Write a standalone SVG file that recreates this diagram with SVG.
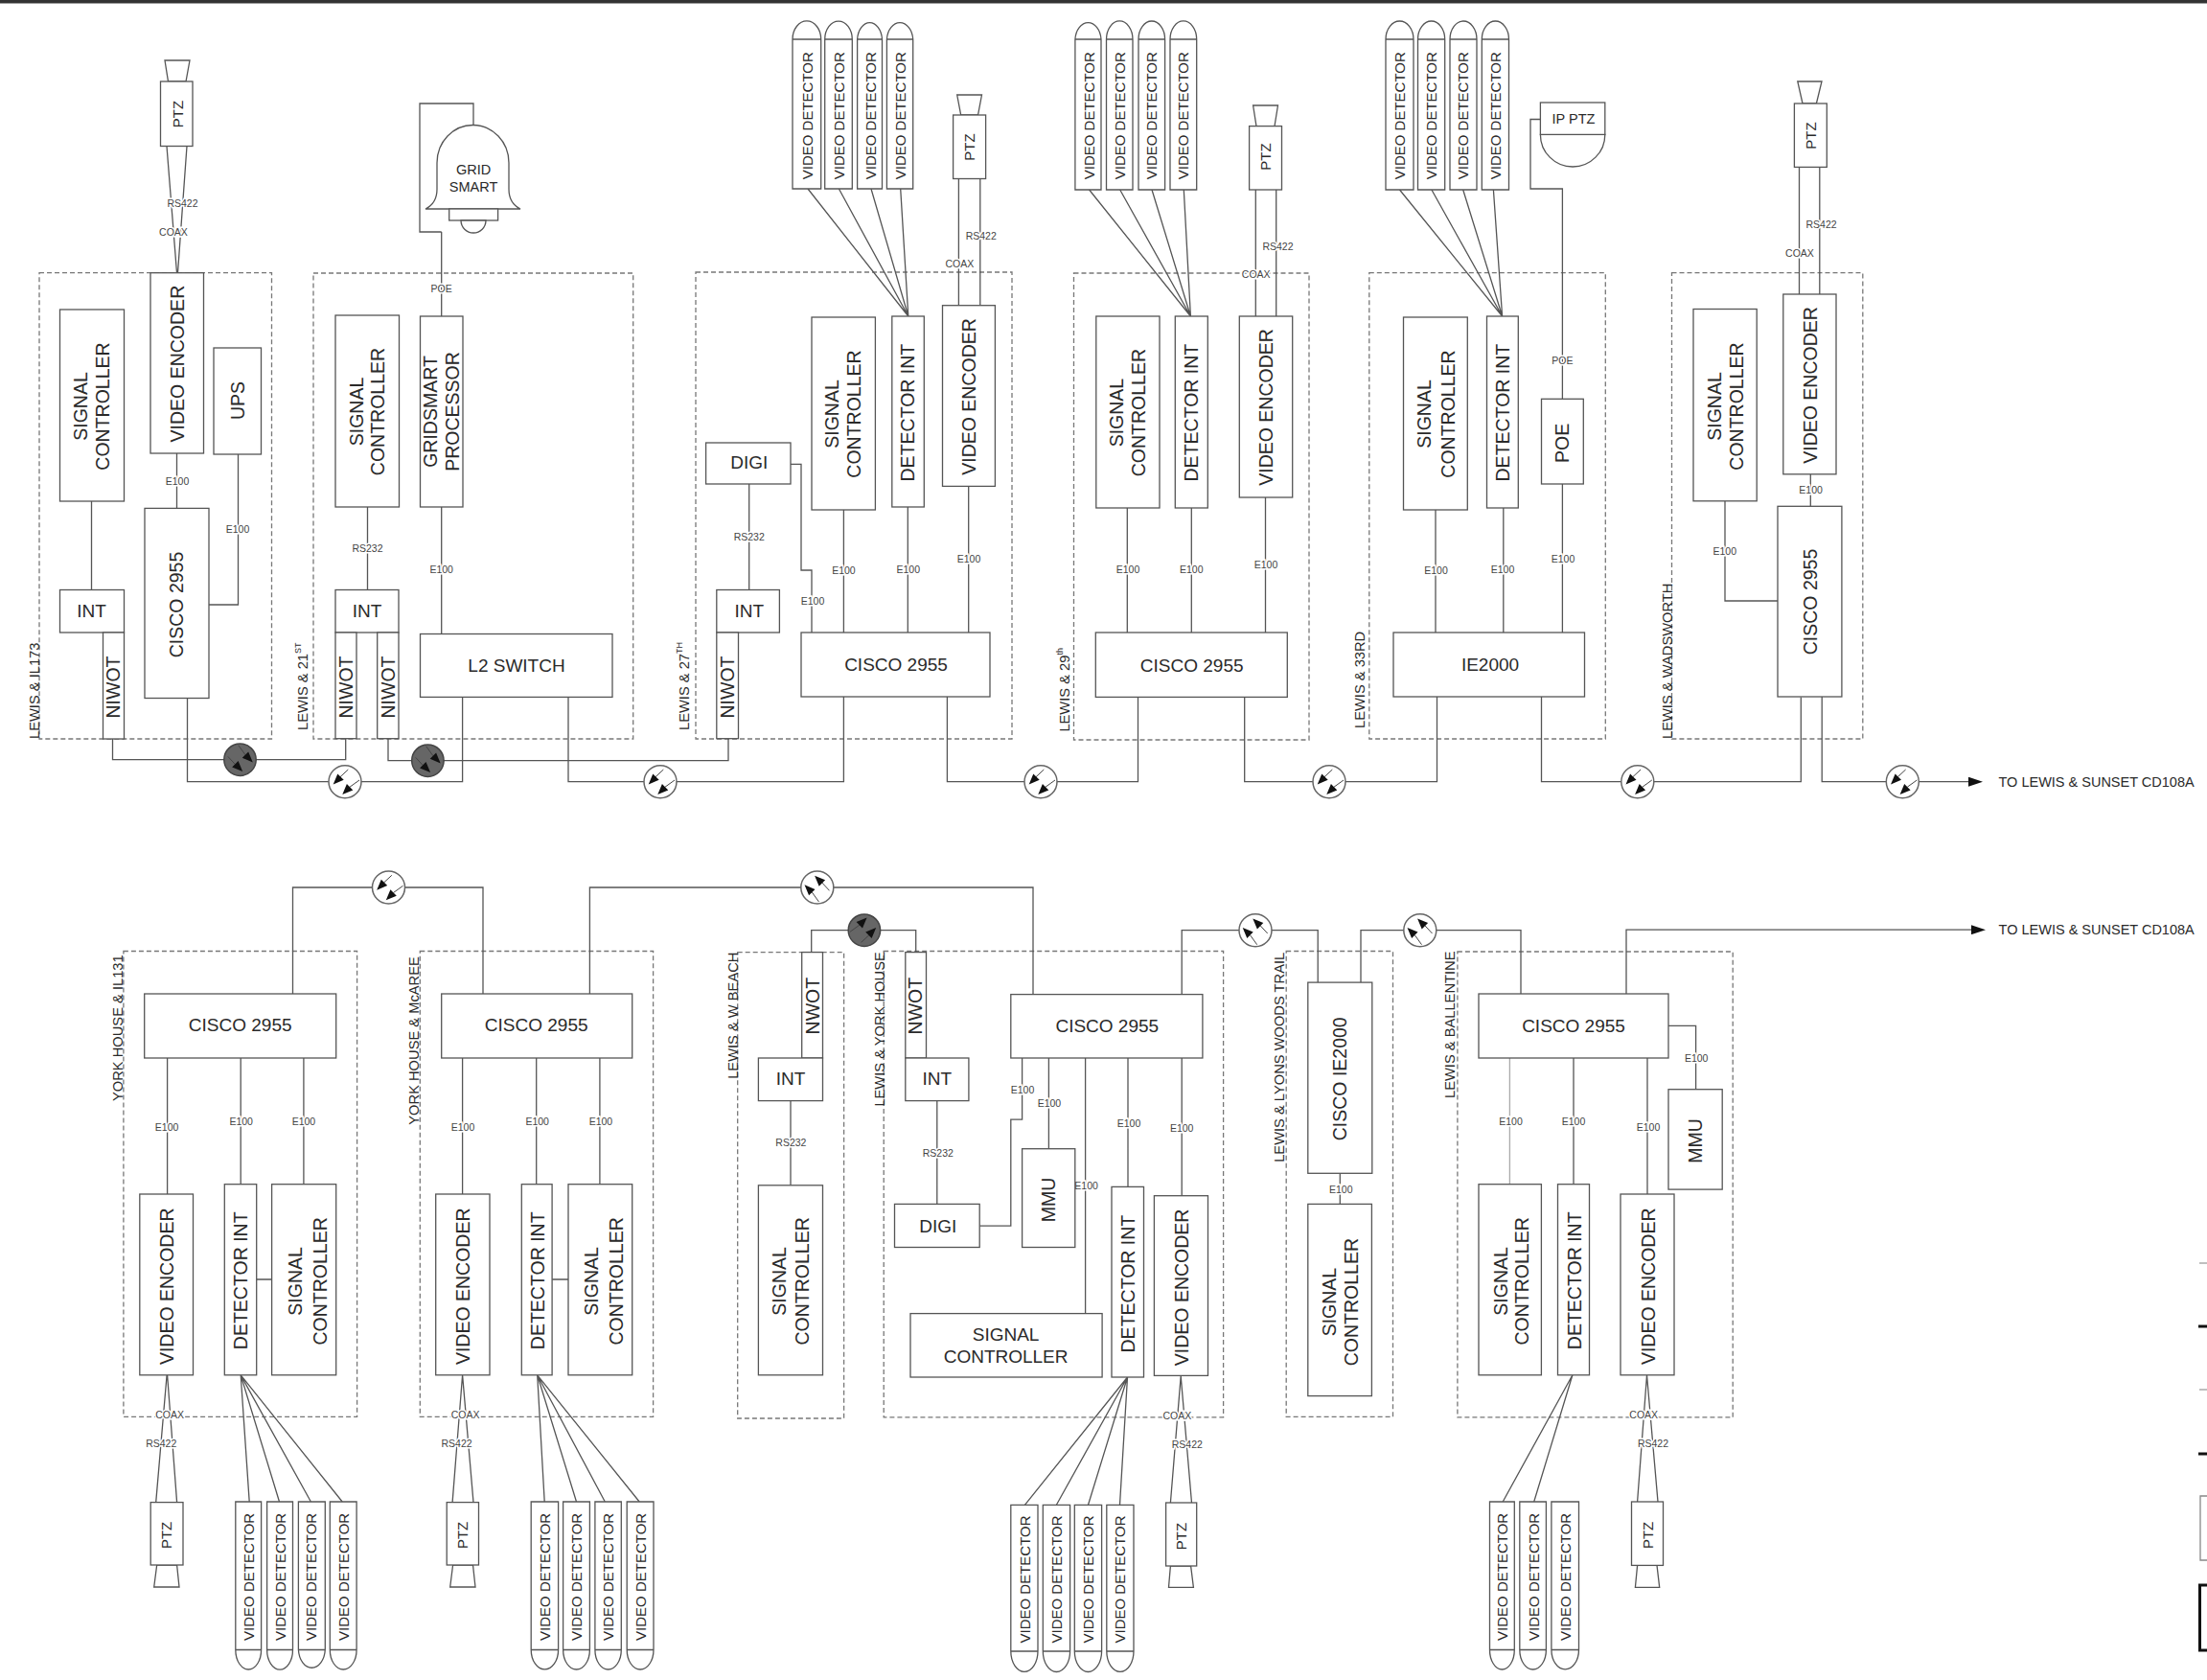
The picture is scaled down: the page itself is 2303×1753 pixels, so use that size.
<svg xmlns="http://www.w3.org/2000/svg" width="2303" height="1753" viewBox="0 0 2303 1753">
<style>
text{font-family:"Liberation Sans",Arial,sans-serif;fill:#2a2a2a;text-anchor:middle;dominant-baseline:central}
.b{fill:#fff;stroke:#555;stroke-width:1.3}
.d{fill:none;stroke:#777;stroke-width:1.3;stroke-dasharray:5 3}
.c{fill:none;stroke:#555;stroke-width:1.3}
.lg{stroke:#aaa}
.r{font-size:19.5px}
.h{font-size:19px}
.v{font-size:15px}
.m{font-size:14.5px}
.s{font-size:10.5px;fill:#444;stroke:#fff;stroke-width:3px;paint-order:stroke}
.l{font-size:14.7px;text-anchor:start}
.e{text-anchor:start}
.fw{fill:#fff;stroke:#666;stroke-width:1.5}
.fk{fill:#666;stroke:#444;stroke-width:1.5}
.arrow-line{stroke:#444;stroke-width:1}
</style>
<defs>
<g id="arrows">
<path class="arrow-line" d="M3.3-12.7L-5-5M15-1.7L5 5.5"/>
<path d="M-12.3 2.7L-1.3-1.9L-7.7-8.3ZM-2.7 13.3L8.3 8.7L1.9 2.3Z" fill="#111"/>
</g>
<marker id="ah" viewBox="0 0 15 10" refX="1" refY="5" markerWidth="15" markerHeight="10" markerUnits="userSpaceOnUse" orient="auto"><path d="M0 0L15 5L0 10Z" fill="#111"/></marker>
</defs>

<rect id="frame-top" x="0" y="0" width="2303" height="3.5" fill="#333"/>

<g id="sites">
<g id="site-il173"><rect class="d" x="41" y="284.7" width="242.5" height="486.3"/><text class="l" transform="translate(36 771) rotate(-90)">LEWIS &amp; IL173</text></g>
<g id="site-21st"><rect class="d" x="327" y="285" width="333.7" height="486"/><text class="l" transform="translate(316 762) rotate(-90)">LEWIS &amp; 21<tspan font-size="9" dy="-5">ST</tspan></text></g>
<g id="site-27th"><rect class="d" x="726" y="284" width="330" height="487"/><text class="l" transform="translate(714 762) rotate(-90)">LEWIS &amp; 27<tspan font-size="9" dy="-5">TH</tspan></text></g>
<g id="site-29th"><rect class="d" x="1120.5" y="285" width="245.5" height="487"/><text class="l" transform="translate(1110.7 763.6) rotate(-90)">LEWIS &amp; 29<tspan font-size="9" dy="-5">th</tspan></text></g>
<g id="site-33rd"><rect class="d" x="1428.8" y="284.7" width="246.5" height="486.3"/><text class="l" transform="translate(1419 760) rotate(-90)">LEWIS &amp; 33RD</text></g>
<g id="site-wadsworth"><rect class="d" x="1744.5" y="284.7" width="199.3" height="486.3"/><text class="l" transform="translate(1739.9 771) rotate(-90)">LEWIS &amp; WADSWORTH</text></g>
<g id="site-il131"><rect class="d" x="128.9" y="992.5" width="243.7" height="485.8"/><text class="l" transform="translate(123.4 1149) rotate(-90)">YORK HOUSE &amp; IL131</text></g>
<g id="site-mcaree"><rect class="d" x="438.3" y="992.5" width="243.3" height="485.8"/><text class="l" transform="translate(432.3 1173.7) rotate(-90)">YORK HOUSE &amp; McAREE</text></g>
<g id="site-wbeach"><rect class="d" x="769.7" y="993.6" width="110.9" height="486.4"/><text class="l" transform="translate(765 1125.8) rotate(-90)">LEWIS &amp; W BEACH</text></g>
<g id="site-yorkhouse"><rect class="d" x="922.2" y="992.5" width="354.4" height="486.4"/><text class="l" transform="translate(918.4 1154.6) rotate(-90)">LEWIS &amp; YORK HOUSE</text></g>
<g id="site-lyons"><rect class="d" x="1342.2" y="992.5" width="111.3" height="485.8"/><text class="l" transform="translate(1334.6 1212.8) rotate(-90)">LEWIS &amp; LYONS WOODS TRAIL</text></g>
<g id="site-ballentine"><rect class="d" x="1520.9" y="993" width="287.3" height="485.9"/><text class="l" transform="translate(1513.2 1146) rotate(-90)">LEWIS &amp; BALLENTINE</text></g>
</g>

<g id="connectors">
<path class="c" d="M174 152.5L184.5 284.7M195 152.5L185.5 284.7M184.5 473V530.4M248.5 474V631H218M95.5 523V615.5M117.5 771V792.7H360.7V771M195.5 728.5V815.7H482.6V727.4"/>
<path class="c" d="M460.7 242H438V108H494V130.5M460.7 242V330M383.5 529V615.5M460.7 529V661.5M405 770.7V793.7H760V770.7M593 727.4V815.7H880.4V727"/>
<path class="c" d="M781.7 505V615.5M825 484.4H836V595H847V660M880.4 532V660M947.3 529V660M1010.7 507.4V660M988.4 727V815.7H1187.5V727.4M843 197L947.8 330M875.4 197L947.8 330M909 197L947.8 330M939.7 197L947.8 330M1000.4 186.5V318.7M1022.8 186.5V318.7"/>
<path class="c" d="M1176.3 530V660M1243.3 530V660M1320.5 519V660M1298.7 727.4V815.7H1499.5V727M1136.6 198L1242.4 330M1168.7 198L1242.4 330M1202 198L1242.4 330M1235.3 198L1242.4 330M1310.3 198V330M1331.7 198V330"/>
<path class="c" d="M1498 532V660M1568.8 530V660M1630.4 505V660M1460.5 198L1567.6 330M1493.9 198L1567.6 330M1526.7 198L1567.6 330M1558.4 198L1567.6 330M1607.4 124.5H1597V197H1630.4V416.3M1608.5 727V815.7H1879.3V727.4"/>
<path class="c" d="M1800 522.8V627H1855M1889.3 494.8V528.3M1877.5 174.4V307M1898.8 174.4V307"/>
<path class="c" d="M1901.2 727V815.7H2055" marker-end="url(#ah)"/>
<path class="c" d="M305.5 1037V926H504V1037M615.4 1037V926H1078V1037.6M174.6 1104V1246M251.2 1104V1235.7M316.9 1104V1235.7M267.7 1335H283.6M174.1 1434.8L162.7 1567.6M174.6 1434.8L184.6 1567.6M251.2 1434.8L260.2 1567M251.2 1434.8L291.5 1567M251.2 1434.8L324.4 1567M251.2 1434.8L357.2 1567"/>
<path class="c" d="M482.6 1104V1246M559.7 1104V1235.7M625.9 1104V1235.7M576.1 1335H593M482.6 1434.8L472.1 1567.6M482.6 1434.8L494 1567.6M560.7 1434.8L568.2 1567M560.7 1434.8L601.5 1567M560.7 1434.8L631.3 1567M560.7 1434.8L667.2 1567"/>
<path class="c" d="M825 1148.6V1236.8M846.7 993.6V970.7H955.7V993.6M977.8 1148.6V1256.4M1022.2 1279.2H1054.8V1168.2H1066.6V1104M1094.4 1104V1198.7M1132.6 1104V1370.6M1177 1104V1238.4M1233.2 1104V1247.7M1233.2 1037.6V970.7H1375.2V1025.1M1232.2 1435.9L1221.4 1568M1232.2 1435.9L1243.5 1568M1176.5 1437L1069.4 1570.3M1176.5 1437L1102.4 1570.3M1176.5 1437L1135.5 1570.3M1176.5 1437L1168.5 1570.3"/>
<path class="c" d="M1398.3 1224.3V1256.4M1420 1025.1V970.7H1587V1037M1769.6 1136.7V1070.3H1741M1642 1104V1235.7M1719 1104V1246M1718.5 1434.8L1708.6 1567M1718.5 1434.8L1730 1567M1640.9 1434.8L1568.2 1567M1640.9 1434.8L1600.7 1567"/>
<path class="c lg" d="M1575.4 1104V1235.7"/>
<path class="c" d="M1697 1037V970.2H2058" marker-end="url(#ah)"/>
<g id="connector-labels">
<text class="s" x="190.5" y="212">RS422</text><text class="s" x="181" y="242">COAX</text><text class="s" x="185" y="502">E100</text><text class="s" x="248" y="552.4">E100</text>
<text class="s" x="460.7" y="301">POE</text><text class="s" x="383.5" y="572">RS232</text><text class="s" x="460.7" y="594">E100</text>
<text class="s" x="781.7" y="560">RS232</text><text class="s" x="848" y="627">E100</text><text class="s" x="880.4" y="595">E100</text><text class="s" x="947.8" y="594">E100</text><text class="s" x="1011" y="582.5">E100</text><text class="s" x="1023.7" y="246">RS422</text><text class="s" x="1001.3" y="275">COAX</text>
<text class="s" x="1177" y="594">E100</text><text class="s" x="1243.3" y="594">E100</text><text class="s" x="1321" y="588.6">E100</text><text class="s" x="1333.5" y="257">RS422</text><text class="s" x="1310.7" y="286.3">COAX</text>
<text class="s" x="1498.5" y="594.6">E100</text><text class="s" x="1568" y="594">E100</text><text class="s" x="1631" y="582.5">E100</text><text class="s" x="1630.4" y="376.3">POE</text>
<text class="s" x="1889.6" y="511">E100</text><text class="s" x="1799.8" y="575">E100</text><text class="s" x="1900.6" y="234.2">RS422</text><text class="s" x="1878" y="263.9">COAX</text>
<text class="s" x="174.1" y="1176.4">E100</text><text class="s" x="251.7" y="1170.4">E100</text><text class="s" x="316.9" y="1170.4">E100</text><text class="s" x="177.1" y="1475.6">COAX</text><text class="s" x="168.2" y="1506">RS422</text>
<text class="s" x="483" y="1176.4">E100</text><text class="s" x="560.7" y="1170">E100</text><text class="s" x="626.9" y="1170.4">E100</text><text class="s" x="485.6" y="1475.6">COAX</text><text class="s" x="476.6" y="1506">RS422</text>
<text class="s" x="825.4" y="1192">RS232</text><text class="s" x="978.8" y="1203">RS232</text><text class="s" x="1067" y="1136.7">E100</text><text class="s" x="1094.9" y="1151.4">E100</text><text class="s" x="1133.6" y="1237.3">E100</text><text class="s" x="1178" y="1171.5">E100</text><text class="s" x="1233.2" y="1177">E100</text><text class="s" x="1228.4" y="1476.7">COAX</text><text class="s" x="1238.8" y="1506.6">RS422</text>
<text class="s" x="1399.3" y="1240.6">E100</text>
<text class="s" x="1770.2" y="1104">E100</text><text class="s" x="1576.5" y="1170.4">E100</text><text class="s" x="1642" y="1170">E100</text><text class="s" x="1720" y="1176.4">E100</text><text class="s" x="1715.2" y="1475.6">COAX</text><text class="s" x="1725" y="1506">RS422</text>
</g>
<g id="splices">
<g transform="translate(250.5 792.7)"><circle class="fk" r="16.7"/><use href="#arrows" transform="rotate(270)"/></g>
<g transform="translate(360 815.7)"><circle class="fw" r="17"/><use href="#arrows"/></g>
<g transform="translate(446.4 793.7)"><circle class="fk" r="16.7"/><use href="#arrows" transform="rotate(270)"/></g>
<g transform="translate(689 815.7)"><circle class="fw" r="17"/><use href="#arrows"/></g>
<g transform="translate(1086 815.7)"><circle class="fw" r="17"/><use href="#arrows"/></g>
<g transform="translate(1387 815.7)"><circle class="fw" r="17"/><use href="#arrows"/></g>
<g transform="translate(1708.8 815.7)"><circle class="fw" r="17"/><use href="#arrows"/></g>
<g transform="translate(1985.3 815.7)"><circle class="fw" r="17"/><use href="#arrows"/></g>
<g transform="translate(405.5 926)"><circle class="fw" r="17"/><use href="#arrows"/></g>
<g transform="translate(852.8 926)"><circle class="fw" r="17"/><use href="#arrows" transform="rotate(90)"/></g>
<g transform="translate(901.9 970.7)"><circle class="fk" r="16.7"/><use href="#arrows" transform="rotate(180)"/></g>
<g transform="translate(1310 970.7)"><circle class="fw" r="17"/><use href="#arrows" transform="rotate(90)"/></g>
<g transform="translate(1481.8 970.7)"><circle class="fw" r="17"/><use href="#arrows" transform="rotate(90)"/></g>
</g>
</g>

<g id="top-row">
<g id="ptz-1"><path class="b" d="M172 63H198L194 85H175.5Z"/><rect class="b" x="167.5" y="85" width="33.5" height="67.5"/><text class="v" transform="translate(185 119) rotate(-90)">PTZ</text></g>
<g id="enc-1"><rect class="b" x="157" y="284.7" width="55.5" height="188.3"/><text class="r" transform="translate(184.5 379.6) rotate(-90)">VIDEO ENCODER</text></g>
<g id="sig-1"><rect class="b" x="62.5" y="323" width="67" height="200"/><text class="r" transform="translate(84 424) rotate(-90)">SIGNAL</text><text class="r" transform="translate(107 424) rotate(-90)">CONTROLLER</text></g>
<g id="ups-1"><rect class="b" x="223" y="363" width="49.5" height="111"/><text class="r" transform="translate(248 418) rotate(-90)">UPS</text></g>
<g id="cisco-1"><rect class="b" x="151" y="530.4" width="67" height="198.1"/><text class="r" transform="translate(184 631) rotate(-90)">CISCO 2955</text></g>
<g id="int-1"><rect class="b" x="62.5" y="615.5" width="67" height="44.5"/><text class="h" x="95.5" y="637.4">INT</text></g>
<g id="niwot-1"><rect class="b" x="107.5" y="660" width="22" height="111"/><text class="r" transform="translate(117.5 717) rotate(-90)">NIWOT</text></g>

<g id="gridsmart"><path class="b" d="M444 218Q456 212 456 197.5V170A37.5 39.5 0 0 1 531 170V197.5Q531 212 543 218Z"/><rect class="b" x="468.7" y="218" width="50.9" height="12"/><path class="b" d="M481 230A13 13 0 0 0 507 230Z"/><text class="m" x="494" y="176.6">GRID</text><text class="m" x="494" y="194.7">SMART</text></g>
<g id="sig-2"><rect class="b" x="350" y="329" width="66.5" height="200"/><text class="r" transform="translate(371.5 429.5) rotate(-90)">SIGNAL</text><text class="r" transform="translate(394 429.5) rotate(-90)">CONTROLLER</text></g>
<g id="gsp"><rect class="b" x="438.5" y="330" width="44.5" height="199"/><text class="r" transform="translate(449 429.5) rotate(-90)">GRIDSMART</text><text class="r" transform="translate(472 429.5) rotate(-90)">PROCESSOR</text></g>
<g id="int-2"><rect class="b" x="350" y="615.5" width="66" height="44.5"/><text class="h" x="383" y="637.4">INT</text></g>
<g id="niwot-2a"><rect class="b" x="350" y="660" width="22" height="110.7"/><text class="r" transform="translate(360.5 717) rotate(-90)">NIWOT</text></g>
<g id="niwot-2b"><rect class="b" x="393.7" y="660" width="22.3" height="110.7"/><text class="r" transform="translate(405 717) rotate(-90)">NIWOT</text></g>
<g id="l2"><rect class="b" x="438.5" y="661.5" width="200.5" height="65.9"/><text class="h" x="539" y="694">L2 SWITCH</text></g>

<g id="digi-3"><rect class="b" x="736.6" y="462" width="88.4" height="43"/><text class="h" x="781.7" y="482.7">DIGI</text></g>
<g id="int-3"><rect class="b" x="747.8" y="615.5" width="65.6" height="44.5"/><text class="h" x="781.7" y="637.4">INT</text></g>
<g id="niwot-3"><rect class="b" x="747.8" y="660" width="22.7" height="110.7"/><text class="r" transform="translate(759.4 717) rotate(-90)">NIWOT</text></g>
<g id="sig-3"><rect class="b" x="847" y="331" width="66.4" height="201"/><text class="r" transform="translate(868 432) rotate(-90)">SIGNAL</text><text class="r" transform="translate(891 432) rotate(-90)">CONTROLLER</text></g>
<g id="det-3"><rect class="b" x="930.8" y="330" width="33.5" height="199"/><text class="r" transform="translate(947 430.6) rotate(-90)">DETECTOR INT</text></g>
<g id="enc-3"><rect class="b" x="983.5" y="318.7" width="54.9" height="188.7"/><text class="r" transform="translate(1011 414) rotate(-90)">VIDEO ENCODER</text></g>
<g id="cisco-3"><rect class="b" x="836" y="660" width="197" height="67"/><text class="h" x="935" y="693.4">CISCO 2955</text></g>
<g id="vd-3"><path class="b" d="M827 197V41A14.8 19 0 0 1 856.7 41V197ZM827 41H856.7"/><text class="v" transform="translate(842 120.7) rotate(-90)">VIDEO DETECTOR</text><path class="b" d="M860.7 197V41A14.3 19 0 0 1 889.3 41V197ZM860.7 41H889.3"/><text class="v" transform="translate(875 120.7) rotate(-90)">VIDEO DETECTOR</text><path class="b" d="M894.6 197V41A13 19 0 0 1 920.5 41V197ZM894.6 41H920.5"/><text class="v" transform="translate(908 120.7) rotate(-90)">VIDEO DETECTOR</text><path class="b" d="M925.4 197V41A13.7 19 0 0 1 952.7 41V197ZM925.4 41H952.7"/><text class="v" transform="translate(939.3 120.7) rotate(-90)">VIDEO DETECTOR</text></g>
<g id="ptz-3"><path class="b" d="M998.7 99H1024.5L1020.5 120H1002.7Z"/><rect class="b" x="994.6" y="120" width="34" height="66.5"/><text class="v" transform="translate(1011.6 153.6) rotate(-90)">PTZ</text></g>

<g id="sig-4"><rect class="b" x="1143.8" y="330" width="66.2" height="200"/><text class="r" transform="translate(1165 430.6) rotate(-90)">SIGNAL</text><text class="r" transform="translate(1188 430.6) rotate(-90)">CONTROLLER</text></g>
<g id="det-4"><rect class="b" x="1226.3" y="330" width="34" height="200"/><text class="r" transform="translate(1243 430.6) rotate(-90)">DETECTOR INT</text></g>
<g id="enc-4"><rect class="b" x="1293.3" y="330" width="55.4" height="189"/><text class="r" transform="translate(1320.5 425) rotate(-90)">VIDEO ENCODER</text></g>
<g id="cisco-4"><rect class="b" x="1143.3" y="660" width="200" height="67.4"/><text class="h" x="1243.7" y="694">CISCO 2955</text></g>
<g id="vd-4"><path class="b" d="M1121.9 198V41A13.6 19 0 0 1 1149 41V198ZM1121.9 41H1149"/><text class="v" transform="translate(1136 120.7) rotate(-90)">VIDEO DETECTOR</text><path class="b" d="M1154.5 198V41A13.7 19 0 0 1 1182 41V198ZM1154.5 41H1182"/><text class="v" transform="translate(1168.7 120.7) rotate(-90)">VIDEO DETECTOR</text><path class="b" d="M1188 198V41A13.8 19 0 0 1 1215.6 41V198ZM1188 41H1215.6"/><text class="v" transform="translate(1201.8 120.7) rotate(-90)">VIDEO DETECTOR</text><path class="b" d="M1221 198V41A13.8 19 0 0 1 1248.7 41V198ZM1221 41H1248.7"/><text class="v" transform="translate(1234.8 120.7) rotate(-90)">VIDEO DETECTOR</text></g>
<g id="ptz-4"><path class="b" d="M1307.6 110H1333.5L1330 131.6H1311Z"/><rect class="b" x="1303.6" y="131.6" width="33.9" height="66.4"/><text class="v" transform="translate(1320.5 163.5) rotate(-90)">PTZ</text></g>

<g id="sig-5"><rect class="b" x="1464.5" y="331" width="66.8" height="201"/><text class="r" transform="translate(1486.4 432) rotate(-90)">SIGNAL</text><text class="r" transform="translate(1510.6 432) rotate(-90)">CONTROLLER</text></g>
<g id="det-5"><rect class="b" x="1551.5" y="330" width="32.8" height="200"/><text class="r" transform="translate(1568 430.6) rotate(-90)">DETECTOR INT</text></g>
<g id="poe-5"><rect class="b" x="1608.5" y="416.3" width="43.8" height="88.7"/><text class="r" transform="translate(1630.4 462.4) rotate(-90)">POE</text></g>
<g id="ie-5"><rect class="b" x="1454" y="660" width="199.5" height="67"/><text class="h" x="1555" y="693.4">IE2000</text></g>
<g id="ipptz-5"><path class="b" d="M1607.4 140.4A33.7 33.6 0 0 0 1674.8 140.4Z"/><rect class="b" x="1607.4" y="107" width="67.4" height="33.4"/><text class="m" x="1642" y="124">IP PTZ</text></g>
<g id="vd-5"><path class="b" d="M1446 198V41A14.5 19 0 0 1 1475 41V198ZM1446 41H1475"/><text class="v" transform="translate(1460.5 120.7) rotate(-90)">VIDEO DETECTOR</text><path class="b" d="M1479.5 198V41A14.1 19 0 0 1 1507.7 41V198ZM1479.5 41H1507.7"/><text class="v" transform="translate(1493.9 120.7) rotate(-90)">VIDEO DETECTOR</text><path class="b" d="M1513 198V41A14 19 0 0 1 1541 41V198ZM1513 41H1541"/><text class="v" transform="translate(1526.7 120.7) rotate(-90)">VIDEO DETECTOR</text><path class="b" d="M1546.3 198V41A14.1 19 0 0 1 1574.5 41V198ZM1546.3 41H1574.5"/><text class="v" transform="translate(1560.7 120.7) rotate(-90)">VIDEO DETECTOR</text></g>

<g id="sig-6"><rect class="b" x="1767" y="322.5" width="66.2" height="200.3"/><text class="r" transform="translate(1789.4 424) rotate(-90)">SIGNAL</text><text class="r" transform="translate(1811.9 424) rotate(-90)">CONTROLLER</text></g>
<g id="enc-6"><rect class="b" x="1860.8" y="307" width="55.2" height="187.8"/><text class="r" transform="translate(1888.5 402) rotate(-90)">VIDEO ENCODER</text></g>
<g id="cisco-6"><rect class="b" x="1855" y="528.3" width="66.9" height="198.7"/><text class="r" transform="translate(1888.5 628) rotate(-90)">CISCO 2955</text></g>
<g id="ptz-6"><path class="b" d="M1875.8 85H1901L1895.4 108H1881Z"/><rect class="b" x="1872.4" y="108" width="33.9" height="66.4"/><text class="v" transform="translate(1889 141.5) rotate(-90)">PTZ</text></g>
<text id="to-1" class="m e" x="2085.5" y="815.7">TO LEWIS &amp; SUNSET CD108A</text>
</g>

<g id="bottom-row">
<g id="cisco-7"><rect class="b" x="150.7" y="1037" width="200" height="67"/><text class="h" x="250.7" y="1069.8">CISCO 2955</text></g>
<g id="enc-7"><rect class="b" x="145.8" y="1246" width="55.7" height="188.8"/><text class="r" transform="translate(173.6 1342.3) rotate(-90)">VIDEO ENCODER</text></g>
<g id="det-7"><rect class="b" x="234.3" y="1235.7" width="33.4" height="199.1"/><text class="r" transform="translate(250.7 1336.3) rotate(-90)">DETECTOR INT</text></g>
<g id="sig-7"><rect class="b" x="283.6" y="1235.7" width="67.1" height="199.1"/><text class="r" transform="translate(308 1336.9) rotate(-90)">SIGNAL</text><text class="r" transform="translate(333.8 1336.9) rotate(-90)">CONTROLLER</text></g>
<g id="ptz-7"><path class="b" d="M163.7 1633H184.6L187 1656H160.7Z"/><rect class="b" x="157.2" y="1567.6" width="33.8" height="65.4"/><text class="v" transform="translate(173.1 1601.9) rotate(-90)">PTZ</text></g>
<g id="vd-7"><path class="b" d="M245.8 1567V1721.5A13.4 20.5 0 0 0 272.6 1721.5V1567ZM245.8 1721.5H272.6"/><text class="v" transform="translate(259.2 1645.4) rotate(-90)">VIDEO DETECTOR</text><path class="b" d="M278.6 1567V1721.5A13.4 20.5 0 0 0 305.5 1721.5V1567ZM278.6 1721.5H305.5"/><text class="v" transform="translate(292 1645.4) rotate(-90)">VIDEO DETECTOR</text><path class="b" d="M311.4 1567V1721.5A14 20.5 0 0 0 339.3 1721.5V1567ZM311.4 1721.5H339.3"/><text class="v" transform="translate(324.9 1645.4) rotate(-90)">VIDEO DETECTOR</text><path class="b" d="M344.3 1567V1721.5A13.9 20.5 0 0 0 372.1 1721.5V1567ZM344.3 1721.5H372.1"/><text class="v" transform="translate(358.2 1645.4) rotate(-90)">VIDEO DETECTOR</text></g>

<g id="cisco-8"><rect class="b" x="460.7" y="1037" width="199" height="67"/><text class="h" x="559.7" y="1069.8">CISCO 2955</text></g>
<g id="enc-8"><rect class="b" x="454.7" y="1246" width="56.3" height="188.8"/><text class="r" transform="translate(482.6 1342.3) rotate(-90)">VIDEO ENCODER</text></g>
<g id="det-8"><rect class="b" x="544.3" y="1235.7" width="31.8" height="199.1"/><text class="r" transform="translate(560.7 1336.3) rotate(-90)">DETECTOR INT</text></g>
<g id="sig-8"><rect class="b" x="593" y="1235.7" width="66.7" height="199.1"/><text class="r" transform="translate(617.4 1336.9) rotate(-90)">SIGNAL</text><text class="r" transform="translate(643.3 1336.9) rotate(-90)">CONTROLLER</text></g>
<g id="ptz-8"><path class="b" d="M472.6 1633H493.5L496 1656H469.7Z"/><rect class="b" x="466.2" y="1567.6" width="33.3" height="65.4"/><text class="v" transform="translate(482.1 1601.9) rotate(-90)">PTZ</text></g>
<g id="vd-8"><path class="b" d="M554.2 1567V1721.5A14.2 20.5 0 0 0 582.6 1721.5V1567ZM554.2 1721.5H582.6"/><text class="v" transform="translate(568.2 1645.4) rotate(-90)">VIDEO DETECTOR</text><path class="b" d="M587.6 1567V1721.5A13.9 20.5 0 0 0 615.4 1721.5V1567ZM587.6 1721.5H615.4"/><text class="v" transform="translate(601.5 1645.4) rotate(-90)">VIDEO DETECTOR</text><path class="b" d="M620.9 1567V1721.5A13.7 20.5 0 0 0 648.3 1721.5V1567ZM620.9 1721.5H648.3"/><text class="v" transform="translate(634.8 1645.4) rotate(-90)">VIDEO DETECTOR</text><path class="b" d="M654.2 1567V1721.5A13.9 20.5 0 0 0 682 1721.5V1567ZM654.2 1721.5H682"/><text class="v" transform="translate(668.1 1645.4) rotate(-90)">VIDEO DETECTOR</text></g>

<g id="nwot-9"><rect class="b" x="836.7" y="993.6" width="21.8" height="110.4"/><text class="r" transform="translate(847.6 1049.6) rotate(-90)">NWOT</text></g>
<g id="int-9"><rect class="b" x="791.4" y="1104" width="67.1" height="44.6"/><text class="h" x="825" y="1125.8">INT</text></g>
<g id="sig-9"><rect class="b" x="791.4" y="1236.8" width="67.1" height="198"/><text class="r" transform="translate(813 1336.9) rotate(-90)">SIGNAL</text><text class="r" transform="translate(836.7 1336.9) rotate(-90)">CONTROLLER</text></g>

<g id="nwot-10"><rect class="b" x="944.8" y="993.6" width="21.7" height="110.4"/><text class="r" transform="translate(955.2 1049.6) rotate(-90)">NWOT</text></g>
<g id="int-10"><rect class="b" x="944.8" y="1104" width="66.1" height="44.6"/><text class="h" x="977.8" y="1125.8">INT</text></g>
<g id="digi-10"><rect class="b" x="933.5" y="1256.4" width="88.7" height="45.1"/><text class="h" x="978.8" y="1279.2">DIGI</text></g>
<g id="cisco-10"><rect class="b" x="1054.8" y="1037.6" width="200.1" height="66.4"/><text class="h" x="1155.3" y="1070.3">CISCO 2955</text></g>
<g id="mmu-10"><rect class="b" x="1066.6" y="1198.7" width="55.2" height="102.8"/><text class="r" transform="translate(1094 1252) rotate(-90)">MMU</text></g>
<g id="sig-10"><rect class="b" x="950" y="1370.6" width="200.1" height="66.4"/><text class="h" x="1049.6" y="1392.4">SIGNAL</text><text class="h" x="1049.6" y="1415.8">CONTROLLER</text></g>
<g id="det-10"><rect class="b" x="1160" y="1238.4" width="33.5" height="198.6"/><text class="r" transform="translate(1177 1339.6) rotate(-90)">DETECTOR INT</text></g>
<g id="enc-10"><rect class="b" x="1204.4" y="1247.7" width="56.1" height="187.7"/><text class="r" transform="translate(1232.7 1343.4) rotate(-90)">VIDEO ENCODER</text></g>
<g id="ptz-10"><path class="b" d="M1221.4 1634H1242.6L1245.4 1656.3H1219.5Z"/><rect class="b" x="1216.6" y="1568" width="32.1" height="66"/><text class="v" transform="translate(1232.2 1603) rotate(-90)">PTZ</text></g>
<g id="vd-10"><path class="b" d="M1054.8 1570.3V1723A14.1 21.4 0 0 0 1083 1723V1570.3ZM1054.8 1723H1083"/><text class="v" transform="translate(1069 1648) rotate(-90)">VIDEO DETECTOR</text><path class="b" d="M1088.3 1570.3V1723A14.1 21.4 0 0 0 1116.6 1723V1570.3ZM1088.3 1723H1116.6"/><text class="v" transform="translate(1102 1648) rotate(-90)">VIDEO DETECTOR</text><path class="b" d="M1121.3 1570.3V1723A14.1 21.4 0 0 0 1149.6 1723V1570.3ZM1121.3 1723H1149.6"/><text class="v" transform="translate(1135.5 1648) rotate(-90)">VIDEO DETECTOR</text><path class="b" d="M1154.8 1570.3V1723A14.1 21.4 0 0 0 1183 1723V1570.3ZM1154.8 1723H1183"/><text class="v" transform="translate(1168.5 1648) rotate(-90)">VIDEO DETECTOR</text></g>

<g id="ie-11"><rect class="b" x="1364.8" y="1025.1" width="67" height="199.2"/><text class="r" transform="translate(1398.3 1125.8) rotate(-90)">CISCO IE2000</text></g>
<g id="sig-11"><rect class="b" x="1364.8" y="1256.4" width="66.6" height="200.2"/><text class="r" transform="translate(1386.5 1358.6) rotate(-90)">SIGNAL</text><text class="r" transform="translate(1410 1358.6) rotate(-90)">CONTROLLER</text></g>

<g id="cisco-12"><rect class="b" x="1543" y="1037" width="198" height="67"/><text class="h" x="1642" y="1070.3">CISCO 2955</text></g>
<g id="mmu-12"><rect class="b" x="1741" y="1136.7" width="56.2" height="104.4"/><text class="r" transform="translate(1768.6 1190.5) rotate(-90)">MMU</text></g>
<g id="sig-12"><rect class="b" x="1543" y="1235.7" width="65.4" height="199.1"/><text class="r" transform="translate(1565.5 1336.9) rotate(-90)">SIGNAL</text><text class="r" transform="translate(1587.5 1336.9) rotate(-90)">CONTROLLER</text></g>
<g id="det-12"><rect class="b" x="1625.5" y="1235.7" width="33" height="199.1"/><text class="r" transform="translate(1642.5 1336.3) rotate(-90)">DETECTOR INT</text></g>
<g id="enc-12"><rect class="b" x="1691" y="1246" width="56" height="188.8"/><text class="r" transform="translate(1719.6 1342.3) rotate(-90)">VIDEO ENCODER</text></g>
<g id="ptz-12"><path class="b" d="M1708.6 1633.4H1729L1731.7 1656.3H1706.4Z"/><rect class="b" x="1702.5" y="1567" width="33" height="66.4"/><text class="v" transform="translate(1719.6 1601.9) rotate(-90)">PTZ</text></g>
<g id="vd-12"><path class="b" d="M1554.5 1567V1721.5A12.9 20.5 0 0 0 1580.3 1721.5V1567ZM1554.5 1721.5H1580.3"/><text class="v" transform="translate(1567.7 1645.4) rotate(-90)">VIDEO DETECTOR</text><path class="b" d="M1585.8 1567V1721.5A13.8 20.5 0 0 0 1613.4 1721.5V1567ZM1585.8 1721.5H1613.4"/><text class="v" transform="translate(1600.2 1645.4) rotate(-90)">VIDEO DETECTOR</text><path class="b" d="M1618.9 1567V1721.5A14.3 20.5 0 0 0 1647.5 1721.5V1567ZM1618.9 1721.5H1647.5"/><text class="v" transform="translate(1633.2 1645.4) rotate(-90)">VIDEO DETECTOR</text></g>
<text id="to-2" class="m e" x="2085.6" y="970.2">TO LEWIS &amp; SUNSET CD108A</text>
</g>

<g id="edge-fragments">
<path d="M2295 1318H2303M2295 1450H2303" stroke="#aaa" stroke-width="1.5" fill="none"/>
<path d="M2294 1384H2303M2294 1517H2303" stroke="#111" stroke-width="3" fill="none"/>
<path d="M2303 1561H2296V1628H2303" stroke="#888" stroke-width="1.3" fill="none"/>
<path d="M2303 1654H2295.5V1722H2303" stroke="#111" stroke-width="3" fill="none"/>
</g>
</svg>
